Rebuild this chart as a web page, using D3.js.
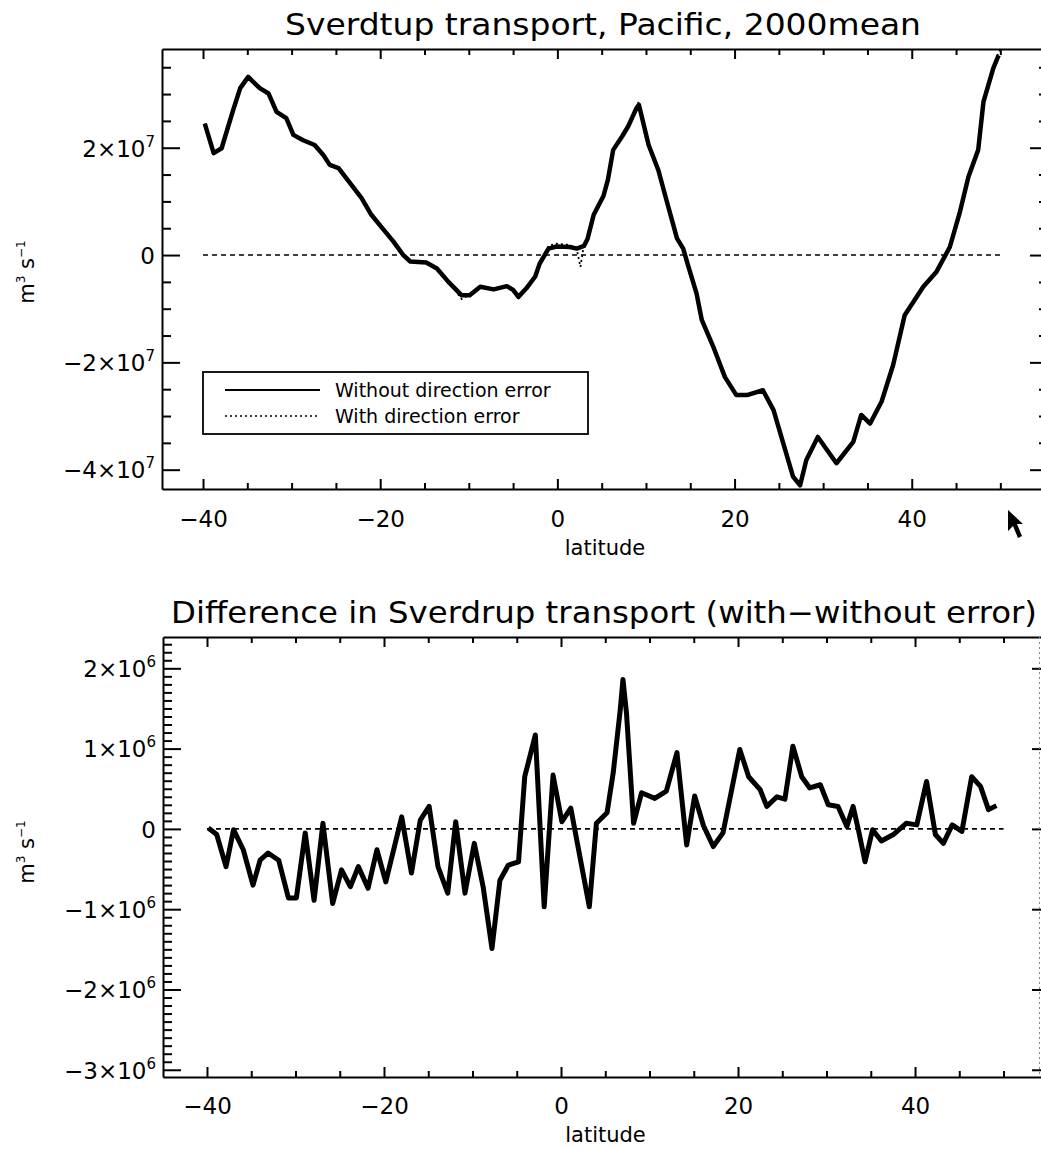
<!DOCTYPE html>
<html><head><meta charset="utf-8">
<script src="https://cdn.jsdelivr.net/npm/d3@7"></script>
<style>
body{margin:0;background:#fff}
text{font-family:"DejaVu Sans",sans-serif;fill:#000}
</style>
</head><body>
<svg id="c" width="1041" height="1150"></svg>
<script>
// ---------- DATA ----------
const latTop = [-39.8,-38.8,-37.9,-36.6,-35.8,-34.9,-33.6,-32.6,-31.7,-30.6,-29.8,-28.7,-27.4,-26.4,-25.7,-24.7,-23.4,-22.1,-21.0,-19.6,-18.5,-17.4,-16.6,-14.8,-13.6,-12.3,-10.8,-9.9,-8.7,-7.2,-5.7,-5.0,-4.4,-3.5,-2.5,-2.0,-1.0,-0.1,1.4,2.2,3.0,3.4,4.1,5.2,5.7,6.3,7.3,8.0,8.9,9.2,10.3,11.4,12.3,13.5,14.2,14.8,15.7,16.3,17.6,18.9,20.2,21.4,23.2,24.4,25.5,26.6,27.4,28.1,29.4,31.5,33.4,34.3,35.3,36.6,37.9,39.2,41.3,42.8,44.3,45.4,46.4,47.5,48.1,49.2,49.8];
const transportNoErr = [2.45e7,1.90e7,1.99e7,2.70e7,3.11e7,3.32e7,3.11e7,3.01e7,2.67e7,2.55e7,2.24e7,2.14e7,2.05e7,1.86e7,1.68e7,1.62e7,1.34e7,1.06e7,0.75e7,0.47e7,0.25e7,0.00e7,-0.12e7,-0.14e7,-0.25e7,-0.50e7,-0.75e7,-0.75e7,-0.59e7,-0.64e7,-0.58e7,-0.65e7,-0.78e7,-0.62e7,-0.40e7,-0.16e7,0.12e7,0.16e7,0.15e7,0.12e7,0.17e7,0.30e7,0.75e7,1.10e7,1.40e7,1.96e7,2.21e7,2.40e7,2.73e7,2.80e7,2.05e7,1.58e7,1.03e7,0.31e7,0.12e7,-0.22e7,-0.71e7,-1.21e7,-1.71e7,-2.27e7,-2.61e7,-2.61e7,-2.52e7,-2.89e7,-3.51e7,-4.13e7,-4.29e7,-3.82e7,-3.39e7,-3.88e7,-3.48e7,-2.98e7,-3.14e7,-2.73e7,-2.05e7,-1.12e7,-0.59e7,-0.31e7,0.15e7,0.78e7,1.46e7,1.96e7,2.86e7,3.48e7,3.72e7];
const latTopErr = [-39.8,-38.8,-37.9,-36.6,-35.8,-34.9,-33.6,-32.6,-31.7,-30.6,-29.8,-28.7,-27.4,-26.4,-25.7,-24.7,-23.4,-22.1,-21.0,-19.6,-18.5,-17.4,-16.6,-14.8,-13.6,-12.3,-10.8,-9.9,-8.7,-7.2,-5.7,-5.0,-4.4,-3.5,-2.5,-2.0,-1.0,-0.1,1.4,2.2,2.6,3.0,3.4,4.1,5.2,5.7,6.3,7.3,8.0,8.9,9.2,10.3,11.4,12.3,13.5,14.2,14.8,15.7,16.3,17.6,18.9,20.2,21.4,23.2,24.4,25.5,26.6,27.4,28.1,29.4,31.5,33.4,34.3,35.3,36.6,37.9,39.2,41.3,42.8,44.3,45.4,46.4,47.5,48.1,49.2,49.8,50.1];
const transportErr = [2.45e7,1.91e7,1.98e7,2.72e7,3.10e7,3.33e7,3.12e7,3.00e7,2.69e7,2.54e7,2.25e7,2.13e7,2.06e7,1.85e7,1.70e7,1.61e7,1.36e7,1.05e7,0.77e7,0.46e7,0.26e7,0.01e7,-0.13e7,-0.12e7,-0.27e7,-0.49e7,-0.82e7,-0.74e7,-0.60e7,-0.62e7,-0.59e7,-0.66e7,-0.80e7,-0.61e7,-0.41e7,-0.15e7,0.17e7,0.21e7,0.19e7,0.10e7,-0.22e7,0.20e7,0.32e7,0.77e7,1.12e7,1.45e7,1.98e7,2.25e7,2.42e7,2.76e7,2.86e7,2.07e7,1.60e7,1.05e7,0.33e7,0.13e7,-0.21e7,-0.70e7,-1.20e7,-1.70e7,-2.26e7,-2.60e7,-2.60e7,-2.51e7,-2.88e7,-3.50e7,-4.12e7,-4.30e7,-3.81e7,-3.38e7,-3.87e7,-3.47e7,-2.97e7,-3.13e7,-2.72e7,-2.04e7,-1.11e7,-0.58e7,-0.30e7,0.16e7,0.79e7,1.47e7,1.97e7,2.88e7,3.50e7,3.78e7,3.86e7];

const latDiff = [-39.85,-38.9,-37.85,-37.0,-35.9,-34.8,-34.0,-33.1,-31.9,-30.8,-29.9,-28.9,-27.9,-26.9,-25.8,-24.8,-23.8,-22.9,-21.8,-20.8,-19.8,-18.0,-16.9,-15.9,-14.9,-13.9,-12.8,-11.9,-10.85,-9.8,-8.8,-7.8,-6.9,-5.95,-4.8,-4.1,-2.9,-1.9,-0.9,0.1,1.1,3.2,4.0,5.2,5.9,6.7,7.0,7.4,8.2,9.1,10.6,11.9,13.1,14.2,15.1,16.1,17.2,18.3,20.2,21.2,22.5,23.25,24.4,25.3,26.2,27.2,28.1,29.3,30.2,31.3,32.3,33.0,33.6,34.35,35.2,36.2,37.55,39.0,40.2,41.3,42.3,43.2,44.2,45.3,46.4,47.4,48.3,49.2];
const diffVals = [0.01e6,-0.07e6,-0.47e6,-0.01e6,-0.26e6,-0.70e6,-0.39e6,-0.30e6,-0.39e6,-0.86e6,-0.86e6,-0.05e6,-0.89e6,0.07e6,-0.93e6,-0.51e6,-0.72e6,-0.47e6,-0.74e6,-0.26e6,-0.66e6,0.15e6,-0.55e6,0.11e6,0.28e6,-0.47e6,-0.80e6,0.09e6,-0.80e6,-0.18e6,-0.72e6,-1.49e6,-0.64e6,-0.45e6,-0.41e6,0.65e6,1.17e6,-0.97e6,0.67e6,0.09e6,0.26e6,-0.97e6,0.07e6,0.20e6,0.70e6,1.49e6,1.86e6,1.44e6,0.07e6,0.45e6,0.38e6,0.47e6,0.95e6,-0.20e6,0.41e6,0.04e6,-0.22e6,-0.05e6,0.99e6,0.65e6,0.49e6,0.28e6,0.40e6,0.37e6,1.03e6,0.65e6,0.51e6,0.55e6,0.30e6,0.28e6,0.03e6,0.28e6,-0.01e6,-0.41e6,-0.01e6,-0.15e6,-0.07e6,0.07e6,0.05e6,0.59e6,-0.07e6,-0.18e6,0.05e6,-0.03e6,0.65e6,0.53e6,0.24e6,0.29e6];

const zeroLineLat = [-40, 50];
const xMajorTicks = [-40,-20,0,20,40];
const xMinorTicks = [-45,-35,-30,-25,-15,-10,-5,5,10,15,25,30,35,45,50,55];
const yMajorTop = [-4e7,-2e7,0,2e7];
const yMajorBot = [-3e6,-2e6,-1e6,0,1e6,2e6];
const titleTop = "Sverdtup transport, Pacific, 2000mean";
const titleBot = "Difference in Sverdrup transport (with\u2212without error)";
const legendLabels = ["Without direction error","With direction error"];

// ---------- DRAW ----------
const svg = d3.select("#c");

function fmtLat(d){ return d < 0 ? "\u2212" + Math.abs(d) : String(d); }

function yLabel(sel, d){
  sel.text(null);
  if (d === 0){ sel.text("0"); return; }
  const e = Math.floor(Math.log10(Math.abs(d)) + 1e-9);
  const m = Math.round(d / Math.pow(10, e));
  sel.append("tspan").text((m < 0 ? "\u2212" + Math.abs(m) : m) + "\u00d710");
  sel.append("tspan").attr("dy", -10).attr("font-size", 15).text(e);
}

function panel(cfg){
  const {x, y, yMinorStep, title, titleY, titleLen, unitY} = cfg;
  const g = svg.append("g");
  const [x0, x1] = x.range();
  const [yb, yt] = y.range();

  g.append("text").attr("x", cfg.titleX).attr("y", titleY)
    .attr("text-anchor", "middle").attr("font-size", 30)
    .attr("textLength", titleLen).attr("lengthAdjust", "spacingAndGlyphs").text(title);

  const yMinor = d3.range(Math.ceil(y.domain()[0] / yMinorStep) * yMinorStep, y.domain()[1], yMinorStep)
    .filter(v => !cfg.yMajor.some(m => Math.abs(m - v) < yMinorStep / 10));

  const style = s => { s.selectAll("path,line").attr("stroke", "#000").attr("stroke-width", 2); };
  const xMin = xMinorTicks.filter(v => x(v) > x0 && x(v) < 1040);

  g.append("g").attr("transform", `translate(0,${yb})`)
    .call(d3.axisBottom(x).tickValues(xMajorTicks).tickSize(-10).tickSizeOuter(0).tickFormat(fmtLat))
    .call(s => s.selectAll("text").attr("font-size", 23).attr("y", cfg.xLabOff).attr("dy", 0))
    .call(style);
  g.append("g").attr("transform", `translate(0,${yb})`)
    .call(d3.axisBottom(x).tickValues(xMin).tickSize(-6).tickSizeOuter(0).tickFormat(""))
    .call(style).call(s => s.select(".domain").remove());
  g.append("g").attr("transform", `translate(0,${yt})`)
    .call(d3.axisTop(x).tickValues(xMajorTicks).tickSize(-10).tickSizeOuter(0).tickFormat(""))
    .call(style);
  g.append("g").attr("transform", `translate(0,${yt})`)
    .call(d3.axisTop(x).tickValues(xMin).tickSize(-6).tickSizeOuter(0).tickFormat(""))
    .call(style).call(s => s.select(".domain").remove());
  g.append("g").attr("transform", `translate(${x0},0)`)
    .call(d3.axisLeft(y).tickValues(cfg.yMajor).tickSize(-18).tickSizeOuter(0))
    .call(s => s.selectAll("text").attr("font-size", 23).attr("x", -7).attr("dy", "0.36em")
      .each(function(d){ yLabel(d3.select(this), d); }))
    .call(style);
  g.append("g").attr("transform", `translate(${x0},0)`)
    .call(d3.axisLeft(y).tickValues(yMinor).tickSize(-9).tickSizeOuter(0).tickFormat(""))
    .call(style).call(s => s.select(".domain").remove());
  g.append("g").attr("transform", `translate(${x1},0)`)
    .call(d3.axisRight(y).tickValues(cfg.yMajor).tickSize(-18).tickSizeOuter(0).tickFormat(""))
    .call(style);
  g.append("g").attr("transform", `translate(${x1},0)`)
    .call(d3.axisRight(y).tickValues(yMinor).tickSize(-9).tickSizeOuter(0).tickFormat(""))
    .call(style).call(s => s.select(".domain").remove());

  g.append("text").attr("x", (x0 + 1040) / 2 + 4).attr("y", yb + cfg.xTitleOff)
    .attr("text-anchor", "middle").attr("font-size", 21).text("latitude");
  const yl = g.append("text").attr("transform", `translate(34,${unitY}) rotate(-90)`)
    .attr("text-anchor", "middle").attr("font-size", 21);
  yl.append("tspan").text("m");
  yl.append("tspan").attr("dy", -9).attr("font-size", 12).text("3");
  yl.append("tspan").attr("dy", 9).text(" s");
  yl.append("tspan").attr("dy", -9).attr("font-size", 12).text("\u22121");

  g.append("path").datum(zeroLineLat)
    .attr("d", d3.line().x(d => x(d)).y(() => y(0)))
    .attr("stroke", "#000").attr("stroke-width", 1.6).attr("stroke-dasharray", "5,4").attr("fill", "none");
  return g;
}

// top panel
const xT = d3.scaleLinear().domain([-44.63, 55.38]).range([162, 1048]);
const yT = d3.scaleLinear().domain([-4.36e7, 3.84e7]).range([489, 49]);
const gT = panel({x: xT, y: yT, yMajor: yMajorTop, yMinorStep: 5e6, title: titleTop, titleX: 603, titleY: 35, titleLen: 636,
  xLabOff: 38, xTitleOff: 66, unitY: 272});

const lineT = d3.line().x(d => xT(d[0])).y(d => yT(d[1]));
gT.append("path").datum(d3.zip(latTopErr, transportErr)).attr("d", lineT)
  .attr("fill", "none").attr("stroke", "#000").attr("stroke-width", 1.8).attr("stroke-dasharray", "2,3");
gT.append("path").datum(d3.zip(latTop, transportNoErr)).attr("d", lineT)
  .attr("fill", "none").attr("stroke", "#000").attr("stroke-width", 4.5).attr("stroke-linejoin", "round");

const lg = gT.append("g");
lg.append("rect").attr("x", 203).attr("y", 372).attr("width", 385).attr("height", 62)
  .attr("fill", "#fff").attr("stroke", "#000").attr("stroke-width", 1.8);
lg.append("line").attr("x1", 225).attr("x2", 320).attr("y1", 390).attr("y2", 390).attr("stroke", "#000").attr("stroke-width", 1.8);
lg.append("line").attr("x1", 225).attr("x2", 320).attr("y1", 416).attr("y2", 416).attr("stroke", "#000").attr("stroke-width", 1.3).attr("stroke-dasharray", "2,3");
lg.selectAll("text.lab").data(legendLabels).join("text").attr("class", "lab")
  .attr("x", 335).attr("y", (d, i) => 397 + i * 26).attr("font-size", 19).text(d => d);

svg.append("path").attr("d", "M1008,510 L1008,531 L1013,526 L1018,538 L1022,536 L1017,524 L1023,524 Z").attr("fill", "#000");

// bottom panel
const xB = d3.scaleLinear().domain([-44.97, 55.25]).range([163, 1050]);
const yB = d3.scaleLinear().domain([-3.09e6, 2.39e6]).range([1077, 637]);
const gB = panel({x: xB, y: yB, yMajor: yMajorBot, yMinorStep: 1e5, title: titleBot, titleX: 604, titleY: 623, titleLen: 866,
  xLabOff: 37, xTitleOff: 65, unitY: 852});
gB.append("line").attr("x1", 1039.5).attr("x2", 1039.5).attr("y1", 637).attr("y2", 1077)
  .attr("stroke", "#888").attr("stroke-width", 1).attr("stroke-dasharray", "2,3");
gB.append("path").datum(d3.zip(latDiff, diffVals))
  .attr("d", d3.line().x(d => xB(d[0])).y(d => yB(d[1])))
  .attr("fill", "none").attr("stroke", "#000").attr("stroke-width", 5).attr("stroke-linejoin", "round");
</script>
</body></html>
